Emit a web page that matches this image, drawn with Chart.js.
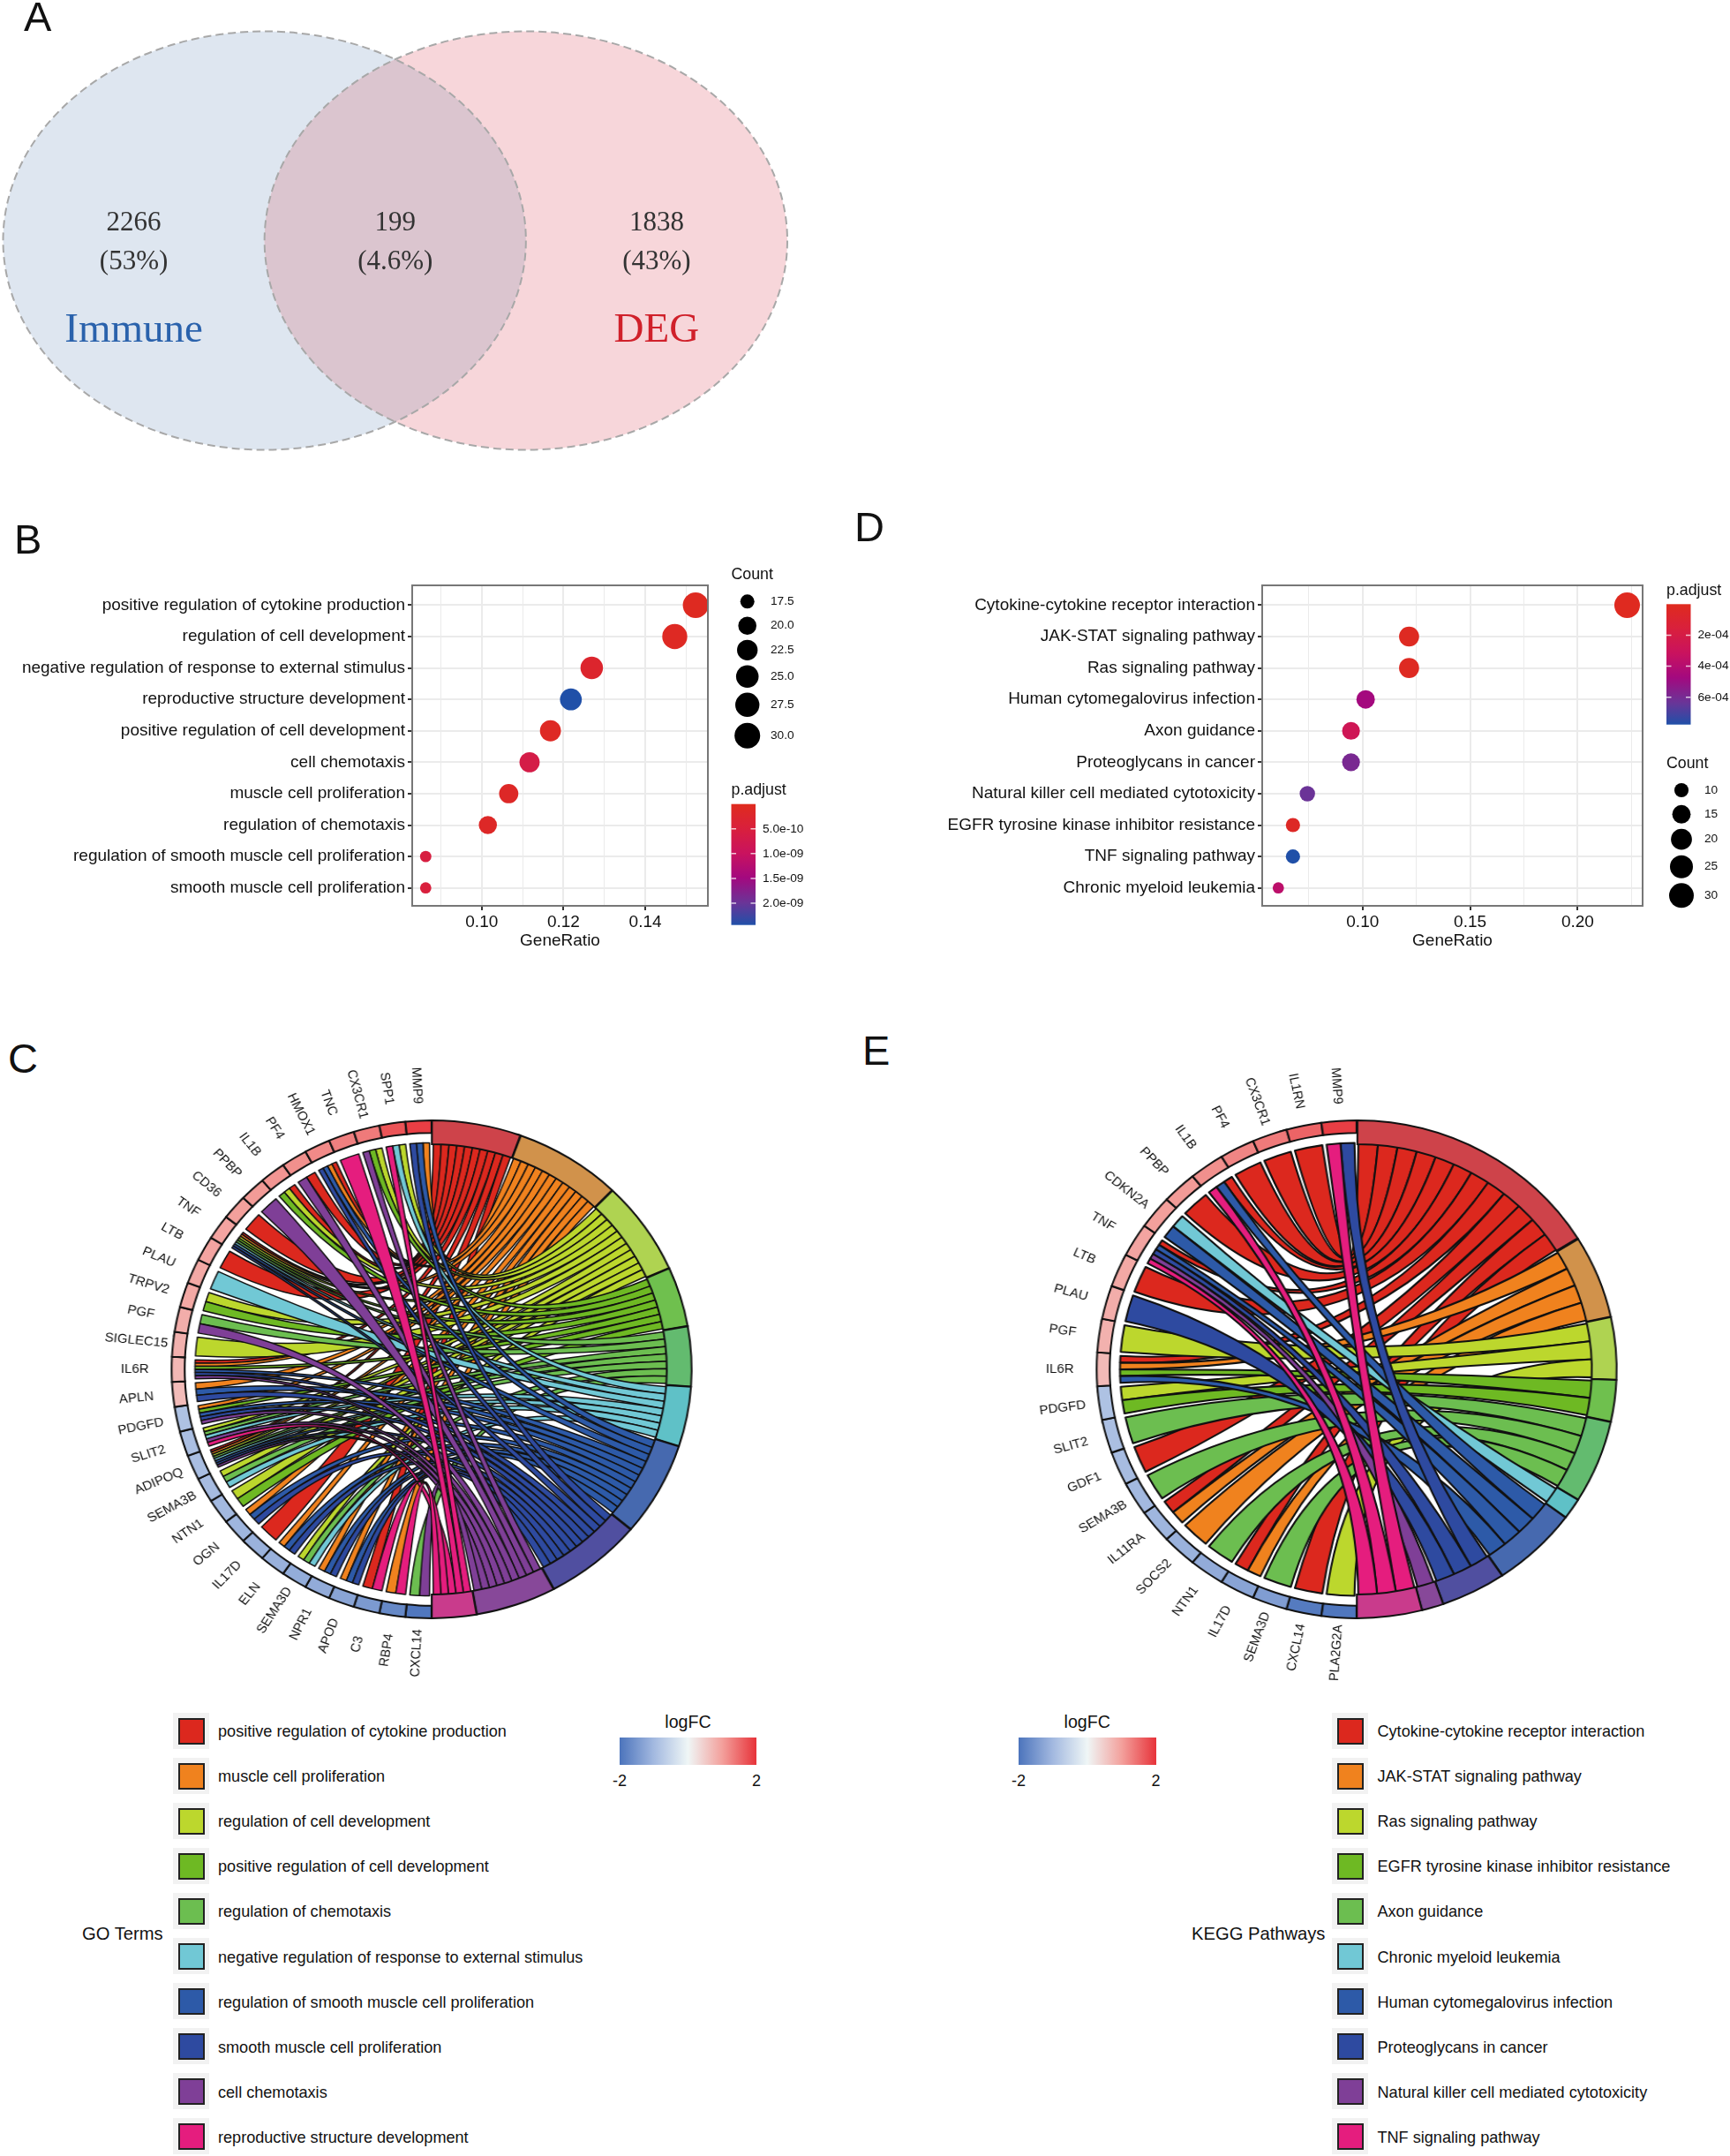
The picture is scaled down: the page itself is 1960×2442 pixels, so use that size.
<!DOCTYPE html>
<html>
<head>
<meta charset="utf-8">
<title>Immune DEG enrichment</title>
<script src="https://cdn.jsdelivr.net/npm/chart.js@4"></script>
<style>
    html, body { margin: 0; padding: 0; background: #fff; }
    body { position: relative; width: 1960px; height: 2442px; overflow: hidden; font-family: "Liberation Sans", sans-serif; color: #111; }
    canvas { position: absolute; }
    .txt { position: absolute; white-space: nowrap; }
    .letter { font-size: 47px; line-height: 47px; }
    .swatch { position: absolute; background: #f2f2f2; width: 41px; height: 41px; }
    .swatch i { position: absolute; left: 6px; top: 6px; width: 26px; height: 26px; border: 2px solid #222; }
</style>
</head>
<body>
<canvas id="venn" width="960" height="540" style="left:0;top:0"></canvas>
<canvas id="dotB" width="960" height="520" style="left:0;top:580px"></canvas>
<canvas id="dotD" width="1000" height="520" style="left:960px;top:580px"></canvas>
<canvas id="chordC" width="760" height="760" style="left:108.5px;top:1170.5px;transform:scaleX(1.045)"></canvas>
<canvas id="chordE" width="760" height="760" style="left:1157px;top:1170.5px;transform:scaleX(1.045)"></canvas>

<script>
// --- panel A ---
const vennSets = ['Immune', 'DEG'];
const vennSetX = [-0.5, 0.5];
const vennRegionX = [-1, 0, 1];
const vennCounts = [2266, 199, 1838];
const vennPercents = ['(53%)', '(4.6%)', '(43%)'];

// --- panel B ---
const goDotTerms = ['positive regulation of cytokine production', 'regulation of cell development',
    'negative regulation of response to external stimulus', 'reproductive structure development',
    'positive regulation of cell development', 'cell chemotaxis', 'muscle cell proliferation',
    'regulation of chemotaxis', 'regulation of smooth muscle cell proliferation', 'smooth muscle cell proliferation'];
const goDotRatio = [0.1523, 0.1472, 0.1269, 0.1218, 0.1168, 0.1117, 0.1066, 0.1015, 0.0863, 0.0863];
const goDotCount = [30, 29, 25, 24, 23, 22, 21, 20, 17, 17];
const goDotPadj = [5e-11, 8e-11, 2.5e-10, 2.44e-9, 1e-10, 6.5e-10, 1.5e-10, 1.5e-10, 5.5e-10, 5e-10];
const goXTicks = [0.09, 0.10, 0.11, 0.12, 0.13, 0.14, 0.15];
const goXMajor = [0.10, 0.12, 0.14];
const goCountTicks = [17.5, 20, 22.5, 25, 27.5, 30];
const goPadjTicks = [5e-10, 1e-9, 1.5e-9, 2e-9];
const goPadjLabels = ['5.0e-10', '1.0e-09', '1.5e-09', '2.0e-09'];

// --- panel D ---
const keggDotTerms = ['Cytokine-cytokine receptor interaction', 'JAK-STAT signaling pathway', 'Ras signaling pathway',
    'Human cytomegalovirus infection', 'Axon guidance', 'Proteoglycans in cancer',
    'Natural killer cell mediated cytotoxicity', 'EGFR tyrosine kinase inhibitor resistance',
    'TNF signaling pathway', 'Chronic myeloid leukemia'];
const keggDotRatio = [0.223, 0.1216, 0.1216, 0.1014, 0.0946, 0.0946, 0.0743, 0.0676, 0.0676, 0.0608];
const keggDotCount = [33, 18, 18, 15, 14, 14, 11, 10, 10, 9];
const keggDotPadj = [1e-5, 2e-5, 2e-5, 4.7e-4, 2.7e-4, 5.9e-4, 6.3e-4, 4e-5, 7.76e-4, 3.7e-4];
const keggXTicks = [0.075, 0.10, 0.125, 0.15, 0.175, 0.20, 0.225];
const keggXMajor = [0.10, 0.15, 0.20];
const keggCountTicks = [10, 15, 20, 25, 30];
const keggPadjTicks = [2e-4, 4e-4, 6e-4];
const keggPadjLabels = ['2e-04', '4e-04', '6e-04'];

// --- panel C ---
const goChordTerms = ['positive regulation of cytokine production', 'muscle cell proliferation',
    'regulation of cell development', 'positive regulation of cell development', 'regulation of chemotaxis',
    'negative regulation of response to external stimulus', 'regulation of smooth muscle cell proliferation',
    'smooth muscle cell proliferation', 'cell chemotaxis', 'reproductive structure development'];
const goChordGenes = ['MMP9', 'SPP1', 'CX3CR1', 'TNC', 'HMOX1', 'PF4', 'IL1B', 'PPBP', 'CD36', 'TNF', 'LTB', 'PLAU',
    'TRPV2', 'PGF', 'SIGLEC15', 'IL6R', 'APLN', 'PDGFD', 'SLIT2', 'ADIPOQ', 'SEMA3B', 'NTN1', 'OGN', 'IL17D', 'ELN',
    'SEMA3D', 'NPR1', 'APOD', 'C3', 'RBP4', 'CXCL14'];
const goChordLogFC = [1.9, 1.7, 1.35, 1.3, 1.2, 1.15, 1.1, 1.05, 1.0, 0.95, 0.95, 0.9, 0.9, 0.85, 0.8, 0.72, 0.68,
    -0.85, -0.9, -0.92, -0.95, -1, -1.05, -1.1, -1.12, -1.18, -1.2, -1.3, -1.45, -1.7, -1.95];
const goChordLinks = [[1, 6, 7], [2, 5, 9], [2, 3, 8], [9], [0, 1, 6, 7], [0, 8], [0, 2, 3], [8], [0],
    [0, 1, 2, 3, 4, 5, 6, 7], [0], [5], [2, 3], [4, 8], [2], [0, 1, 3, 6, 7, 8], [1, 6, 7], [1, 3, 6, 7, 8],
    [2, 4, 5, 8, 9], [0, 1, 2, 4, 5, 6, 7, 8], [2, 4, 5], [2, 3], [1, 6, 7], [0], [1, 6, 7], [2, 4, 5],
    [1, 6, 7], [1, 6, 7], [0, 9], [1, 9], [4, 8]];

// --- panel E ---
const keggChordTerms = ['Cytokine-cytokine receptor interaction', 'JAK-STAT signaling pathway', 'Ras signaling pathway',
    'EGFR tyrosine kinase inhibitor resistance', 'Axon guidance', 'Chronic myeloid leukemia',
    'Human cytomegalovirus infection', 'Proteoglycans in cancer', 'Natural killer cell mediated cytotoxicity',
    'TNF signaling pathway'];
const keggChordGenes = ['MMP9', 'IL1RN', 'CX3CR1', 'PF4', 'IL1B', 'PPBP', 'CDKN2A', 'TNF', 'LTB', 'PLAU', 'PGF', 'IL6R',
    'PDGFD', 'SLIT2', 'GDF1', 'SEMA3B', 'IL11RA', 'SOCS2', 'NTN1', 'IL17D', 'SEMA3D', 'CXCL14', 'PLA2G2A'];
const keggChordLogFC = [1.9, 1.55, 1.35, 1.25, 1.15, 1.05, 1.0, 0.95, 0.9, 0.85, 0.8, 0.7,
    -0.85, -0.9, -0.95, -1, -1.05, -1.1, -1.2, -1.3, -1.4, -1.9, -1.95];
const keggChordLinks = [[7, 9], [0], [0], [0], [0, 6, 9], [0], [5, 6], [0, 6, 7, 8, 9], [0], [7], [2], [0, 1, 3, 6],
    [2, 3], [4], [0], [4], [0, 1], [1], [4], [0, 1], [4], [0], [2]];

const ribbonColors = ['#dc281e', '#f0821e', '#bcd72d', '#6eb923', '#6cbe50', '#71c8d5', '#2d5aa8', '#2e4aa0', '#7f3f97', '#e51d7e'];
const termRingColors = ['#ce434a', '#d1924b', '#afd351', '#6fc04e', '#63bb6f', '#5fc1c7', '#4669af', '#504fa0', '#874899', '#c93b8c'];
const padjStops = [[0, '#df2b1e'], [0.2, '#d9203c'], [0.41, '#c9125f'], [0.61, '#a3097f'], [0.82, '#693598'], [1, '#2050a8']];
const logFCStops = [[-2, '#4c74bc'], [-1, '#a3b9e0'], [0, '#eff6f6'], [1, '#f3a09c'], [2, '#e7333a']];

Chart.defaults.font.family = '"Liberation Sans", sans-serif';
Chart.defaults.color = '#111';
Chart.defaults.animation = false;
Chart.defaults.responsive = false;
Chart.defaults.plugins.legend.display = false;
Chart.defaults.plugins.tooltip.enabled = false;

const hex = c => [1, 3, 5].map(i => parseInt(c.substr(i, 2), 16));
function mixStops(stops, v) {
    let i = 0;
    while (i < stops.length - 2 && v > stops[i + 1][0]) i++;
    const [a, ca] = stops[i], [b, cb] = stops[i + 1];
    const t = Math.max(0, Math.min(1, (v - a) / (b - a)));
    const A = hex(ca), B = hex(cb);
    return 'rgb(' + A.map((x, k) => Math.round(x + (B[k] - x) * t)).join(',') + ')';
}

// ------ Venn ------
function ellipsePath(ctx, chart, setX) {
    const sx = chart.scales.x, sy = chart.scales.y;
    ctx.beginPath();
    ctx.ellipse(sx.getPixelForValue(setX), sy.getPixelForValue(0),
        sx.getPixelForValue(1) - sx.getPixelForValue(0), sy.getPixelForValue(0) - sy.getPixelForValue(1), 0, 0, Math.PI * 2);
}

const vennPlugin = {
    id: 'vennSets',
    beforeDatasetsDraw(chart) {
        const ctx = chart.ctx, sx = chart.scales.x, sy = chart.scales.y;
        ctx.save();
        ellipsePath(ctx, chart, vennSetX[0]); ctx.fillStyle = '#dee6f0'; ctx.fill();
        ellipsePath(ctx, chart, vennSetX[1]); ctx.fillStyle = '#f7d6da'; ctx.fill();
        ctx.save();
        ellipsePath(ctx, chart, vennSetX[0]); ctx.clip();
        ellipsePath(ctx, chart, vennSetX[1]); ctx.fillStyle = '#dbc5cf'; ctx.fill();
        ctx.restore();
        ctx.setLineDash([9, 5]);
        ctx.lineWidth = 2;
        ctx.strokeStyle = '#a8a8a8';
        vennSetX.forEach(x => { ellipsePath(ctx, chart, x); ctx.stroke(); });
        ctx.setLineDash([]);

        ctx.textAlign = 'center';
        ctx.textBaseline = 'middle';
        ctx.fillStyle = '#333';
        ctx.font = '31px "Liberation Serif", serif';
        vennRegionX.forEach((x, i) => {
            const px = sx.getPixelForValue(x);
            ctx.fillText(String(vennCounts[i]), px, sy.getPixelForValue(0) - 20);
            ctx.fillText(vennPercents[i], px, sy.getPixelForValue(0) + 24.5);
        });
        ctx.font = '47px "Liberation Serif", serif';
        ctx.fillStyle = '#2a62ac';
        ctx.fillText(vennSets[0], sx.getPixelForValue(vennRegionX[0]), sy.getPixelForValue(0) + 102.5);
        ctx.fillStyle = '#d0202a';
        ctx.fillText(vennSets[1], sx.getPixelForValue(vennRegionX[2]), sy.getPixelForValue(0) + 102.5);
        ctx.restore();
    }
};

new Chart(document.getElementById('venn'), {
    type: 'scatter',
    data: { datasets: vennSets.map((s, i) => ({ label: s, data: [{ x: vennSetX[i], y: 0 }], pointRadius: 0 })) },
    options: {
        layout: { padding: { left: 3.5, right: 68, top: 35.5, bottom: 30.5 } },
        scales: {
            x: { type: 'linear', display: false, min: -1.5, max: 1.5 },
            y: { type: 'linear', display: false, min: -1, max: 1 }
        }
    },
    plugins: [vennPlugin]
});

// ------ dot plots ------
function dotPlot(id, c) {
    const [minC, maxC] = [Math.min(...c.count), Math.max(...c.count)];
    const radius = n => 6.4 + 8.1 * Math.sqrt(Math.max(0, n - minC) / (maxC - minC));
    const color = p => mixStops(padjStops, p / c.padjMax);
    const isMajor = v => c.xMajor.some(m => Math.abs(m - v) < 1e-6);

    const legendPlugin = {
        id: 'dotLegend',
        afterDatasetsDraw(chart) {
            const ctx = chart.ctx, a = chart.chartArea;
            ctx.save();
            ctx.strokeStyle = '#777';
            ctx.lineWidth = 2;
            ctx.strokeRect(a.left, a.top, a.width, a.height);

            ctx.textBaseline = 'middle';
            ctx.textAlign = 'left';
            ctx.fillStyle = '#111';
            ctx.font = '17.8px "Liberation Sans"';
            ctx.fillText('Count', c.legendX, c.countTitleY);
            ctx.fillText('p.adjust', c.legendX, c.barTitleY);

            ctx.font = '13.7px "Liberation Sans"';
            c.countTicks.forEach((n, i) => {
                ctx.fillStyle = '#000';
                ctx.beginPath();
                ctx.arc(c.countDotX, c.countY[i], radius(n), 0, Math.PI * 2);
                ctx.fill();
                ctx.fillStyle = '#111';
                ctx.fillText(c.countLabels[i], c.countLabelX, c.countY[i]);
            });

            const g = ctx.createLinearGradient(0, c.barTop, 0, c.barBottom);
            padjStops.forEach(s => g.addColorStop(s[0], s[1]));
            ctx.fillStyle = g;
            ctx.fillRect(c.legendX, c.barTop, 27.5, c.barBottom - c.barTop);
            c.padjTicks.forEach((p, i) => {
                const y = c.barTop + (c.barBottom - c.barTop) * p / c.padjMax;
                ctx.strokeStyle = 'rgba(255,255,255,0.75)';
                ctx.lineWidth = 1.5;
                ctx.beginPath();
                ctx.moveTo(c.legendX, y); ctx.lineTo(c.legendX + 5.5, y);
                ctx.moveTo(c.legendX + 22, y); ctx.lineTo(c.legendX + 27.5, y);
                ctx.stroke();
                ctx.fillStyle = '#111';
                ctx.fillText(c.padjLabels[i], c.barLabelX, y);
            });
            ctx.restore();
        }
    };

    return new Chart(document.getElementById(id), {
        type: 'bubble',
        data: {
            datasets: [{
                data: c.terms.map((t, i) => ({ x: c.ratio[i], y: i + 1, r: radius(c.count[i]) })),
                backgroundColor: c.padj.map(color),
                borderWidth: 0,
                clip: false
            }]
        },
        options: {
            layout: { padding: { left: 0, top: 83, right: c.padRight, bottom: 22 } },
            scales: {
                x: {
                    type: 'linear', min: c.xMin, max: c.xMax,
                    afterBuildTicks: s => { s.ticks = c.xTicks.map(v => ({ value: v })); },
                    afterFit: s => { s.height = 52; },
                    ticks: {
                        autoSkip: false, maxRotation: 0, padding: 2,
                        font: { size: 19 }, color: '#111',
                        callback: v => isMajor(v) ? v.toFixed(2) : ''
                    },
                    grid: {
                        color: '#ebebeb', tickLength: 5, tickWidth: 2,
                        tickColor: t => isMajor(t.tick.value) ? '#333' : 'rgba(0,0,0,0)',
                        lineWidth: t => isMajor(t.tick.value) ? 2 : 1
                    },
                    border: { display: false },
                    title: { display: true, text: 'GeneRatio', font: { size: 19 }, color: '#111', padding: { top: 0, bottom: 1 } }
                },
                y: {
                    type: 'linear', reverse: true, min: 0.37, max: 10.57,
                    afterBuildTicks: s => { s.ticks = c.terms.map((t, i) => ({ value: i + 1 })); },
                    afterFit: s => { s.width = c.yWidth; },
                    ticks: {
                        autoSkip: false, padding: 3,
                        font: { size: 19 }, color: '#111',
                        callback: v => c.terms[v - 1]
                    },
                    grid: { color: '#ebebeb', lineWidth: 2, tickLength: 5, tickWidth: 2, tickColor: '#333' },
                    border: { display: false }
                }
            }
        },
        plugins: [legendPlugin]
    });
}

dotPlot('dotB', {
    terms: goDotTerms, ratio: goDotRatio, count: goDotCount, padj: goDotPadj,
    xMin: 0.083, xMax: 0.1553, xTicks: goXTicks, xMajor: goXMajor, yWidth: 467, padRight: 158,
    padjMax: 2.44e-9, padjTicks: goPadjTicks, padjLabels: goPadjLabels,
    countTicks: goCountTicks, countLabels: goCountTicks.map(n => n.toFixed(1)),
    legendX: 828.5, countTitleY: 71.5, barTitleY: 315.5,
    countY: [101.3, 128.7, 156.3, 186.3, 218.3, 253.3], countDotX: 846.7, countLabelX: 873,
    barTop: 330.7, barBottom: 467.7, barLabelX: 864
});

dotPlot('dotD', {
    terms: keggDotTerms, ratio: keggDotRatio, count: keggDotCount, padj: keggDotPadj,
    xMin: 0.0533, xMax: 0.2302, xTicks: keggXTicks, xMajor: keggXMajor, yWidth: 470, padRight: 99,
    padjMax: 7.76e-4, padjTicks: keggPadjTicks, padjLabels: keggPadjLabels,
    countTicks: keggCountTicks, countLabels: keggCountTicks.map(String),
    legendX: 928, countTitleY: 285.5, barTitleY: 89,
    countY: [315, 342.3, 370.7, 401.7, 434.3], countDotX: 945, countLabelX: 971,
    barTop: 104.3, barBottom: 240.7, barLabelX: 963.5
});

// ------ chord diagrams ------
const RING_R = 283.5, GENE_INNER = 0.95, LINK_R = 0.905, LABEL_R = 1.135, ARC_GAP = 3.2;

function chord(id, genes, logFC, links, nTerms, ribbonLine) {
    const counts = Array.from({ length: nTerms }, (_, t) => links.filter(l => l.includes(t)).length);
    const total = counts.reduce((a, b) => a + b, 0);
    // right half = terms, left half = genes going clockwise from the bottom
    const values = counts.map(n => n * genes.length / total).concat(genes.map(() => 1));
    const fills = termRingColors.concat(logFC.slice().reverse().map(v => mixStops(logFCStops, v)));

    const ringPlugin = {
        id: 'chordRibbons',
        beforeDatasetsDraw(chart) {
            const arcs = chart.getDatasetMeta(0).data, ctx = chart.ctx;
            arcs.forEach((arc, i) => {
                arc.outerRadius = RING_R - ARC_GAP;
                arc.innerRadius = (i < nTerms ? LINK_R : GENE_INNER) * RING_R - ARC_GAP;
            });
            const cx = arcs[0].x, cy = arcs[0].y, r = LINK_R * RING_R;
            const pt = a => [cx + r * Math.cos(a), cy + r * Math.sin(a)];
            const used = counts.map(() => 0);
            ctx.save();
            ctx.lineWidth = ribbonLine;
            ctx.strokeStyle = '#111';
            ctx.lineJoin = 'round';
            const ribbons = [];
            genes.forEach((g, gi) => {
                const slot = arcs[nTerms + genes.length - 1 - gi];
                const pad = 0.009;
                const s0 = slot.startAngle + pad, w = (slot.endAngle - slot.startAngle - 2 * pad) / links[gi].length;
                links[gi].slice().sort((a, b) => b - a).forEach((t, k) => {
                    const term = arcs[t], tPad = 0.007;
                    const tw = (term.endAngle - term.startAngle - 2 * tPad) / counts[t];
                    const t0 = term.startAngle + tPad + tw * used[t]++;
                    ribbons.push({ t, g0: s0 + w * k, g1: s0 + w * (k + 1), t0, t1: t0 + tw });
                });
            });
            for (let t = 0; t < nTerms; t++) {
                ribbons.filter(b => b.t === t).forEach(b => {
                    ctx.beginPath();
                    ctx.arc(cx, cy, r, b.g0, b.g1);
                    ctx.quadraticCurveTo(cx, cy, ...pt(b.t0));
                    ctx.arc(cx, cy, r, b.t0, b.t1);
                    ctx.quadraticCurveTo(cx, cy, ...pt(b.g0));
                    ctx.closePath();
                    ctx.fillStyle = ribbonColors[t];
                    ctx.fill();
                    ctx.stroke();
                });
            }
            ctx.restore();
        },
        afterDatasetsDraw(chart) {
            const arcs = chart.getDatasetMeta(0).data, ctx = chart.ctx;
            ctx.save();
            ctx.font = '14.4px "Liberation Sans"';
            ctx.fillStyle = '#111';
            ctx.textAlign = 'center';
            ctx.textBaseline = 'middle';
            genes.forEach((g, gi) => {
                const slot = arcs[nTerms + genes.length - 1 - gi];
                const a = (slot.startAngle + slot.endAngle) / 2;
                ctx.save();
                ctx.translate(slot.x + LABEL_R * RING_R * Math.cos(a), slot.y + LABEL_R * RING_R * Math.sin(a));
                ctx.rotate(a + Math.PI);
                ctx.fillText(g, 0, 0);
                ctx.restore();
            });
            ctx.restore();
        }
    };

    return new Chart(document.getElementById(id), {
        type: 'doughnut',
        data: {
            labels: goChordTerms.concat(genes),
            datasets: [{
                data: values,
                backgroundColor: fills,
                borderColor: '#111',
                borderWidth: 2,
                borderAlign: 'center',
                borderJoinStyle: 'miter',
                spacing: ARC_GAP
            }]
        },
        options: { cutout: '90%' },
        plugins: [ringPlugin]
    });
}

chord('chordC', goChordGenes, goChordLogFC, goChordLinks, goChordTerms.length, 1.5);
chord('chordE', keggChordGenes, keggChordLogFC, keggChordLinks, keggChordTerms.length, 2.1);

// ------ html legends and panel letters ------
function addText(str, x, y, size, cls) {
    const d = document.createElement('div');
    d.className = 'txt ' + (cls || '');
    d.textContent = str;
    d.style.left = x + 'px';
    d.style.top = y + 'px';
    if (size) { d.style.fontSize = size + 'px'; d.style.lineHeight = '0'; }
    document.body.appendChild(d);
    return d;
}

function termLegend(terms, title, titleX, boxX, textX) {
    addText(title, titleX, 2190, 20.2);
    terms.forEach((t, i) => {
        const y = 1960.3 + i * 51.04;
        const s = document.createElement('div');
        s.className = 'swatch';
        s.style.left = boxX + 'px';
        s.style.top = (y - 20.5) + 'px';
        const k = document.createElement('i');
        k.style.background = ribbonColors[i];
        s.appendChild(k);
        document.body.appendChild(s);
        addText(t, textX, y + 1, 18.1);
    });
}

function logFCBar(x0, x1) {
    const b = document.createElement('div');
    b.style.cssText = 'position:absolute;left:' + x0 + 'px;top:1968px;height:31px;width:' + (x1 - x0) + 'px;' +
        'background:linear-gradient(to right,' + logFCStops.map(s => s[1]).join(',') + ')';
    document.body.appendChild(b);
    addText('logFC', (x0 + x1) / 2, 1949.5, 19.6).style.transform = 'translateX(-50%)';
    addText('-2', x0, 2017, 18).style.transform = 'translateX(-50%)';
    addText('2', x1, 2017, 18).style.transform = 'translateX(-50%)';
}

termLegend(goChordTerms, 'GO Terms', 93, 196, 247);
termLegend(keggChordTerms, 'KEGG Pathways', 1350, 1509, 1560.5);
logFCBar(702, 857);
logFCBar(1154, 1309.5);

addText('A', 27, -5, null, 'letter');
addText('B', 16, 587, null, 'letter');
addText('C', 9, 1175, null, 'letter');
addText('D', 968, 573, null, 'letter');
addText('E', 977, 1165.5, null, 'letter');
</script>
</body>
</html>
